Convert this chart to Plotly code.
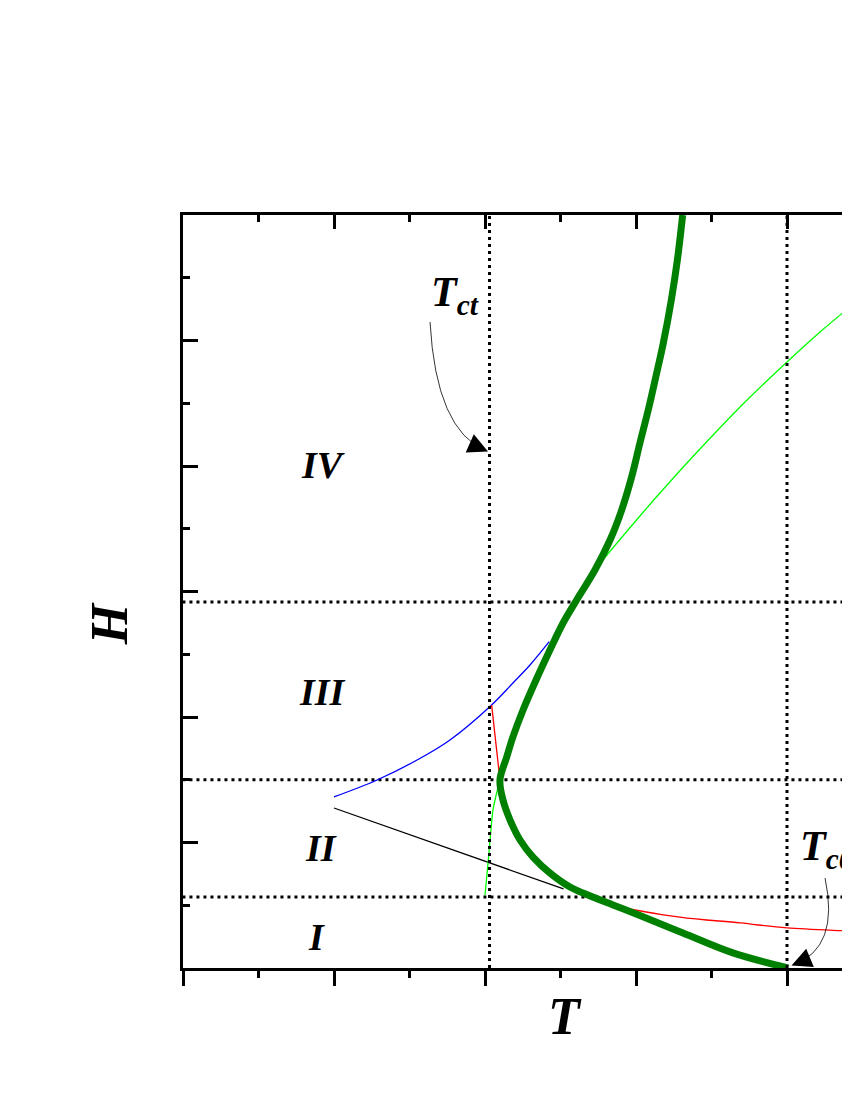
"""
H-T phase diagram: regions I-IV, Tct and Tc0 markers.
"""

import plotly.graph_objects as go

# dotted guide lines (data units: x = T, y = H)
t_ct = 2.03
t_c0 = 4.0
h_guides = [0.566, 1.5, 2.916]

# thick green boundary, bottom right -> top
hc_x = [4.007, 3.642, 3.311, 3.026, 2.848, 2.649, 2.563, 2.430, 2.318, 2.232,
        2.166, 2.119, 2.099, 2.144, 2.185, 2.252, 2.338, 2.430, 2.517, 2.607,
        2.728, 2.828, 2.905, 2.971, 3.026, 3.081, 3.131, 3.181, 3.234, 3.274,
        3.309]
hc_y = [0.0, 0.120, 0.279, 0.418, 0.502, 0.598, 0.645, 0.757, 0.884, 1.020,
        1.179, 1.339, 1.498, 1.681, 1.841, 2.056, 2.295, 2.534, 2.749, 2.932,
        3.171, 3.410, 3.649, 3.912, 4.183, 4.446, 4.709, 4.980, 5.323, 5.641,
        6.0]

# thin light green branch
lime_x = [2.000, 2.024, 2.053, 2.099, 2.144, 2.185, 2.252, 2.338, 2.430, 2.517,
          2.607, 2.728, 2.927, 3.126, 3.325, 3.523, 3.722, 4.000, 4.219, 4.417,
          4.616]
lime_y = [0.58, 0.887, 1.259, 1.498, 1.681, 1.841, 2.056, 2.295, 2.534, 2.749,
          2.932, 3.171, 3.462, 3.741, 4.008, 4.263, 4.510, 4.829, 5.068, 5.267,
          5.458]

# blue branch
blue_x = [1.000, 1.285, 1.550, 1.768, 2.044, 2.185, 2.298, 2.425]
blue_y = [1.363, 1.498, 1.657, 1.817, 2.096, 2.271, 2.414, 2.600]

# short red piece near Tct
red1_x = [2.044, 2.088, 2.099]
red1_y = [2.096, 1.578, 1.498]

# black branch
black_x = [1.000, 2.450, 2.520]
black_y = [1.275, 0.661, 0.630]

# lower red branch
red2_x = [2.649, 2.914, 3.291, 3.690, 4.000, 4.417, 4.600]
red2_y = [0.598, 0.486, 0.406, 0.359, 0.319, 0.295, 0.285]

# region labels
regions = ["IV", "III", "II", "I"]
region_x = [0.927, 0.927, 0.914, 0.887]
region_y = [4.01, 2.20, 0.96, 0.25]

X_MAX = (850 - 183) / 151
FONT = "Liberation Serif, Times New Roman, serif"

fig = go.Figure()

dot = dict(color="black", width=3, dash="3px,4px")
for h in h_guides:
    fig.add_trace(go.Scatter(x=[-0.05, X_MAX + 0.5], y=[h, h], mode="lines", line=dot))
for t in [t_ct, t_c0]:
    fig.add_trace(go.Scatter(x=[t, t], y=[0, 6], mode="lines", line=dot, xaxis="x2"))

thin = 1.3
fig.add_trace(go.Scatter(x=blue_x, y=blue_y, mode="lines", line_shape="spline",
                         line=dict(color="#0000ff", width=thin)))
fig.add_trace(go.Scatter(x=black_x, y=black_y, mode="lines",
                         line=dict(color="black", width=thin)))
fig.add_trace(go.Scatter(x=red1_x, y=red1_y, mode="lines",
                         line=dict(color="#ff0000", width=thin)))
fig.add_trace(go.Scatter(x=red2_x, y=red2_y, mode="lines", line_shape="spline",
                         line=dict(color="#ff0000", width=thin)))
fig.add_trace(go.Scatter(x=lime_x, y=lime_y, mode="lines", line_shape="spline",
                         line=dict(color="#00ff00", width=thin, smoothing=0.6)))
fig.add_trace(go.Scatter(x=hc_x, y=hc_y, mode="lines", line_shape="spline",
                         line=dict(color="#008000", width=7, smoothing=1.0)))

# region labels
for name, x, y in zip(regions, region_x, region_y):
    fig.add_annotation(x=x, y=y, text=f"<b><i>{name}</i></b>", showarrow=False,
                       font=dict(family=FONT, size=38, color="black"))

fig.add_annotation(x=1.63, y=5.36, xanchor="left", text="<b><i>T<sub>ct</sub></i></b>",
                   showarrow=False, font=dict(family=FONT, size=42, color="black"))
fig.add_annotation(x=4.07, y=0.95, xanchor="left", text="<b><i>T<sub>c0</sub></i></b>",
                   showarrow=False, font=dict(family=FONT, size=42, color="black"))

# curved pointer arrows
fig.add_shape(type="path", xref="x", yref="y",
              path="M 1.636,5.147 Q 1.675,4.287 2.007,4.12",
              line=dict(color="black", width=0.8))
fig.add_annotation(x=2.02, y=4.115, ax=-18, ay=-8, text="", showarrow=True,
                   arrowhead=2, arrowsize=4, arrowwidth=1, arrowcolor="black")
fig.add_shape(type="path", xref="x", yref="y",
              path="M 4.252,0.717 Q 4.351,0.159 4.04,0.024",
              line=dict(color="black", width=0.8))
fig.add_annotation(x=4.03, y=0.02, ax=17, ay=-7, text="", showarrow=True,
                   arrowhead=2, arrowsize=4, arrowwidth=1, arrowcolor="black")

# axis titles
fig.add_annotation(xref="paper", yref="paper", x=-0.109, y=0.457, text="<b><i>H</i></b>",
                   xanchor="center", yanchor="middle", textangle=-90, showarrow=False,
                   font=dict(family=FONT, size=52, color="black"))
fig.add_annotation(xref="paper", yref="paper", x=0.573, y=-0.065, text="<b><i>T</i></b>",
                   xanchor="center", yanchor="middle", showarrow=False,
                   font=dict(family=FONT, size=52, color="black"))

axis_common = dict(showgrid=False, zeroline=False, showticklabels=False, showline=True,
                   linecolor="black", linewidth=3, tickcolor="black", tickwidth=3)

# page body has an 8px margin, so the figure is sized to fit the 850x1100 window
fig.update_layout(
    width=842,
    height=1070,
    margin=dict(l=175, r=0, t=207, b=110),
    paper_bgcolor="white",
    plot_bgcolor="white",
    showlegend=False,
    xaxis=dict(range=[0, X_MAX], tick0=0, dtick=1, ticks="outside", ticklen=15,
               minor=dict(dtick=0.5, ticks="outside", ticklen=7, tickwidth=3, tickcolor="black"),
               **axis_common),
    xaxis2=dict(range=[0, X_MAX], overlaying="x", side="top", anchor="y", tick0=0, dtick=1,
                ticks="inside", ticklen=14,
                minor=dict(dtick=0.5, ticks="inside", ticklen=7, tickwidth=3, tickcolor="black"),
                **axis_common),
    yaxis=dict(range=[0, 6], tick0=0, dtick=1, ticks="inside", ticklen=15,
               minor=dict(dtick=0.5, ticks="inside", ticklen=7, tickwidth=3, tickcolor="black"),
               **axis_common),
)

fig.write_html("out.html")
